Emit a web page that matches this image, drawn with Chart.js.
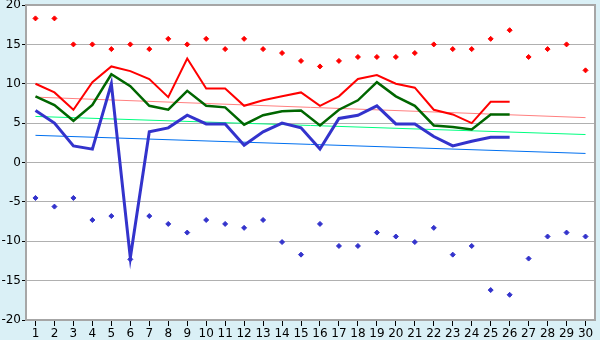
<!DOCTYPE html>
<html>
<head>
<meta charset="utf-8">
<script src="https://cdn.jsdelivr.net/npm/chart.js@4.4.1/dist/chart.umd.min.js"></script>
<style>
  html, body { margin: 0; padding: 0; background: #daf0f6; }
  #wrap { width: 600px; height: 340px; }
</style>
</head>
<body>
<div id="wrap"><canvas id="tempChart" width="600" height="340"></canvas></div>
<script>
// Days of the month
const days = ['1','2','3','4','5','6','7','8','9','10','11','12','13','14','15',
              '16','17','18','19','20','21','22','23','24','25','26','27','28','29','30'];

// Daily lines (only 26 days recorded)
const maxTemp = [10.0, 8.9, 6.7, 10.2, 12.2, 11.6, 10.6, 8.3, 13.2, 9.4, 9.4, 7.2, 7.9, 8.4, 8.9,
                 7.2, 8.4, 10.6, 11.1, 10.0, 9.5, 6.7, 6.1, 5.0, 7.7, 7.7];
const avgTemp = [8.4, 7.3, 5.3, 7.3, 11.2, 9.7, 7.2, 6.7, 9.1, 7.2, 7.0, 4.8, 6.0, 6.5, 6.6,
                 4.7, 6.7, 7.9, 10.2, 8.4, 7.2, 4.7, 4.5, 4.2, 6.1, 6.1];
const minTemp = [6.6, 5.0, 2.1, 1.7, 10.0, -12.1, 3.9, 4.4, 6.0, 4.9, 4.9, 2.2, 3.9, 5.0, 4.4,
                 1.7, 5.6, 6.0, 7.2, 4.9, 4.9, 3.3, 2.1, 2.7, 3.2, 3.2];

// Extremes (points only)
const highPoints = [18.3, 18.3, 15.0, 15.0, 14.4, 15.0, 14.4, 15.7, 15.0, 15.7, 14.4, 15.7, 14.4, 13.9, 12.9,
                    12.2, 12.9, 13.4, 13.4, 13.4, 13.9, 15.0, 14.4, 14.4, 15.7, 16.8, 13.4, 14.4, 15.0, 11.7];
const lowPoints = [-4.5, -5.6, -4.5, -7.3, -6.8, -12.3, -6.8, -7.8, -8.9, -7.3, -7.8, -8.3, -7.3, -10.1, -11.7,
                   -7.8, -10.6, -10.6, -8.9, -9.4, -10.1, -8.3, -11.7, -10.6, -16.2, -16.8, -12.2, -9.4, -8.9, -9.4];

// Trend lines: start and end values
const maxTrend = [8.3, 5.7];
const avgTrend = [5.85, 3.55];
const minTrend = [3.45, 1.15];

// Y axis ticks
const yMin = -20;
const yMax = 20;
const yStep = 5;

function trendSeries(ends) {
    const arr = days.map(() => null);
    arr[0] = ends[0];
    arr[days.length - 1] = ends[1];
    return arr;
}

// white plot area + grey frame
const plotFrame = {
    id: 'plotFrame',
    beforeDraw(chart) {
        const { ctx, chartArea: a } = chart;
        ctx.save();
        ctx.fillStyle = '#ffffff';
        ctx.fillRect(a.left, a.top, a.right - a.left, a.bottom - a.top);
        ctx.restore();
    },
    afterDraw(chart) {
        const { ctx, chartArea: a } = chart;
        ctx.save();
        ctx.strokeStyle = '#a6a6a6';
        ctx.lineWidth = 2;
        ctx.beginPath();
        ctx.moveTo(a.left, a.top);
        ctx.lineTo(a.right, a.top);
        ctx.lineTo(a.right, a.bottom);
        ctx.stroke();
        ctx.restore();
    }
};

const ctx = document.getElementById('tempChart').getContext('2d');
new Chart(ctx, {
    type: 'line',
    data: {
        labels: days,
        datasets: [
            { data: highPoints, showLine: false, pointStyle: 'rectRot', pointRadius: 2.5,
              backgroundColor: '#ff0000', borderColor: '#ff0000', borderWidth: 1, order: 1 },
            { data: lowPoints, showLine: false, pointStyle: 'rectRot', pointRadius: 2.5,
              backgroundColor: '#3333cc', borderColor: '#3333cc', borderWidth: 1, order: 1 },
            { data: maxTemp, borderColor: '#ff0000', borderWidth: 2, pointRadius: 0, order: 2 },
            { data: avgTemp, borderColor: '#006600', borderWidth: 2.5, pointRadius: 0, order: 3 },
            { data: minTemp, borderColor: '#3333cc', borderWidth: 3, pointRadius: 0, order: 4 },
            { data: trendSeries(maxTrend), borderColor: '#ff8080', borderWidth: 1, pointRadius: 0, spanGaps: true, order: 5 },
            { data: trendSeries(avgTrend), borderColor: '#00ff80', borderWidth: 1, pointRadius: 0, spanGaps: true, order: 5 },
            { data: trendSeries(minTrend), borderColor: '#0070f0', borderWidth: 1, pointRadius: 0, spanGaps: true, order: 5 }
        ]
    },
    options: {
        responsive: false,
        animation: false,
        layout: { padding: { top: 5, right: 5, left: 0, bottom: 0 } },
        elements: { line: { tension: 0, fill: false } },
        plugins: {
            legend: { display: false },
            tooltip: { enabled: false }
        },
        scales: {
            x: {
                offset: true,
                grid: { display: true, drawOnChartArea: false, drawTicks: true, offset: false,
                        tickLength: 6, color: '#000000' },
                border: { color: '#a6a6a6', width: 2 },
                ticks: { color: '#000000', font: { family: 'DejaVu Sans', size: 12 }, padding: 1,
                         maxRotation: 0, autoSkip: false },
                afterFit(scale) { scale.height = 20; scale.paddingLeft = 0; scale.paddingRight = 0; }
            },
            y: {
                min: yMin,
                max: yMax,
                grid: { color: '#b0b0b0', lineWidth: 1, tickLength: 4, tickColor: '#000000' },
                border: { color: '#a6a6a6', width: 2 },
                ticks: { stepSize: yStep, color: '#000000', font: { family: 'DejaVu Sans', size: 12 }, padding: 1 },
                afterFit(scale) { scale.width = 26; scale.paddingTop = 0; scale.paddingBottom = 0; }
            }
        }
    },
    plugins: [plotFrame]
});
</script>
</body>
</html>
